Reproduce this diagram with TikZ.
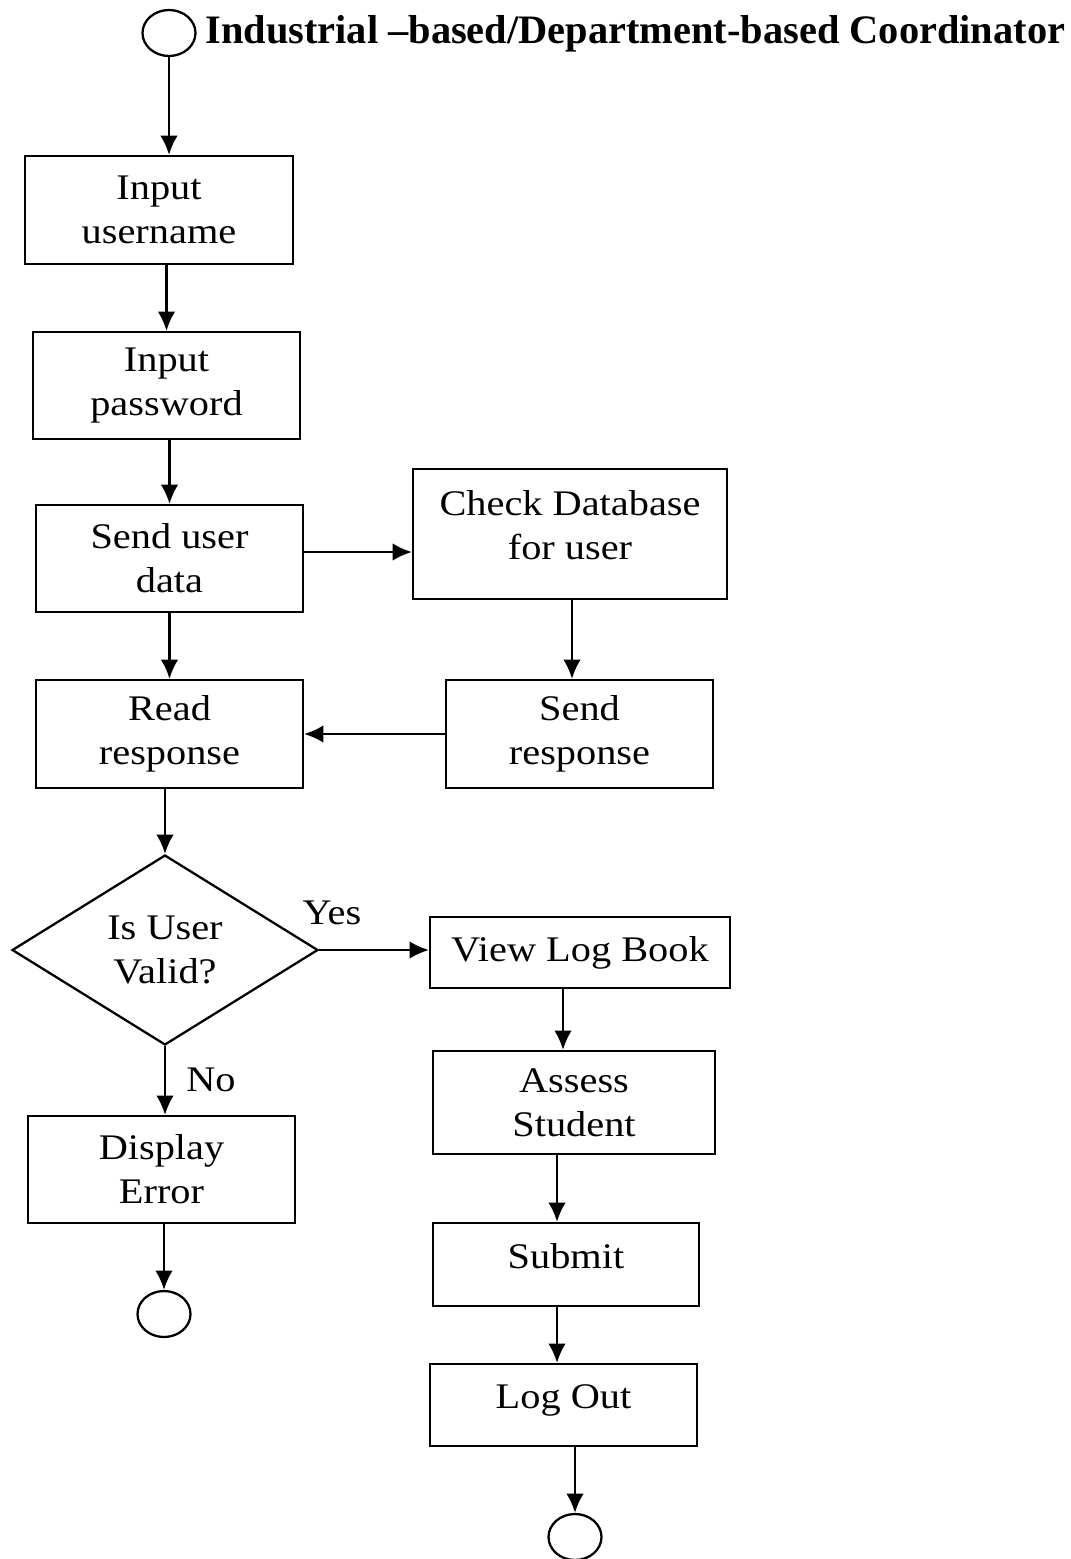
\documentclass[tikz,border=0pt]{standalone}
\usepackage{fontspec}
\setmainfont{Liberation Serif}
\newfontfamily\largo{Liberation Serif}[FakeStretch=1.12]
\usetikzlibrary{arrows.meta,shapes.geometric}

\tikzset{
  passo/.style={draw,line width=1.3pt,inner sep=0pt,align=center,
    font=\largo\fontsize{20.5}{25}\selectfont},
  terminal/.style={draw,ellipse,line width=1.3pt,inner sep=0pt,
    minimum width=10.6mm,minimum height=9.2mm},
  rotulo/.style={inner sep=0pt,font=\largo\fontsize{20.5}{25}\selectfont},
  seta/.style={-{Latex[length=11pt,width=10pt]},line width=1.3pt}
}

\begin{document}
\begin{tikzpicture}[x=0.02cm,y=-0.02cm]
	\useasboundingbox (0,0) rectangle (1071,1559);
	% inicio
	\node[terminal] (start) at (169,33) {};
	\node[inner sep=0pt,anchor=west,font=\bfseries\fontsize{23}{25}\selectfont]
		(title) at (205,34) {Industrial –based/Department-based Coordinator};
	% login
	\node[passo,minimum width=53.6mm,minimum height=21.6mm] (user) at (159,210) {Input\\username};
	\node[passo,minimum width=53.4mm,minimum height=21.4mm] (pass) at (166.5,385.5) {Input\\password};
	\node[passo,minimum width=53.4mm,minimum height=21.4mm] (send) at (169.5,558.5) {Send user\\data};
	\node[passo,minimum width=62.8mm,minimum height=26mm] (check) at (570,534) {Check Database\\for user\\[-15pt]};
	\node[passo,minimum width=53.4mm,minimum height=21.6mm] (resp) at (579.5,734) {Send\\response};
	\node[passo,minimum width=53.4mm,minimum height=21.6mm] (read) at (169.5,734) {Read\\response};
	% decisao
	\node[passo,diamond,minimum width=61.2mm,minimum height=38mm] (dec) at (165,950) {Is User\\Valid?};
	\node[rotulo] (yes) at (332,913) {Yes};
	\node[rotulo] (no) at (211,1080) {No};
	% ramo sim
	\node[passo,minimum width=60mm,minimum height=14.2mm] (view) at (580,952.5) {View Log Book};
	\node[passo,minimum width=56.4mm,minimum height=20.6mm] (assess) at (574,1102.5) {Assess\\Student};
	\node[passo,minimum width=53.2mm,minimum height=16.6mm] (submit) at (566,1264.5) {Submit\\[-15pt]};
	\node[passo,minimum width=53.4mm,minimum height=16.4mm] (logout) at (563.5,1405) {Log Out\\[-15pt]};
	\node[terminal] (end2) at (575,1537) {};
	% ramo nao
	\node[passo,minimum width=53.4mm,minimum height=21.4mm] (error) at (161.5,1169.5) {Display\\Error};
	\node[terminal] (end1) at (164,1314) {};
	% setas
	\draw[seta] (start) -- (start |- user.north);
	\draw[seta] (pass.north |- user.south) -- (pass.north);
	\draw[seta] (send.north |- pass.south) -- (send.north);
	\draw[seta] ([yshift=1.3mm]send.east) -- ([yshift=1.3mm]send.east -| check.west);
	\draw[seta] ([xshift=0.4mm]check.south) -- ([xshift=0.4mm]check.south |- resp.north);
	\draw[seta] (send) -- (read);
	\draw[seta] (resp.west) -- (read.east);
	\draw[seta] (dec.north |- read.south) -- (dec.north);
	\draw[seta] (dec.east) -- (dec.east -| view.west);
	\draw[seta] ([xshift=-3.4mm]view.south) -- ([xshift=-3.4mm]view.south |- assess.north);
	\draw[seta] ([xshift=-1.8mm]submit.north |- assess.south) -- ([xshift=-1.8mm]submit.north);
	\draw[seta] ([xshift=-1.3mm]logout.north |- submit.south) -- ([xshift=-1.3mm]logout.north);
	\draw[seta] (end2.north |- logout.south) -- (end2.north);
	\draw[seta] (dec.south) -- (dec.south |- error.north);
	\draw[seta] (end1.north |- error.south) -- (end1.north);
\end{tikzpicture}
\end{document}
